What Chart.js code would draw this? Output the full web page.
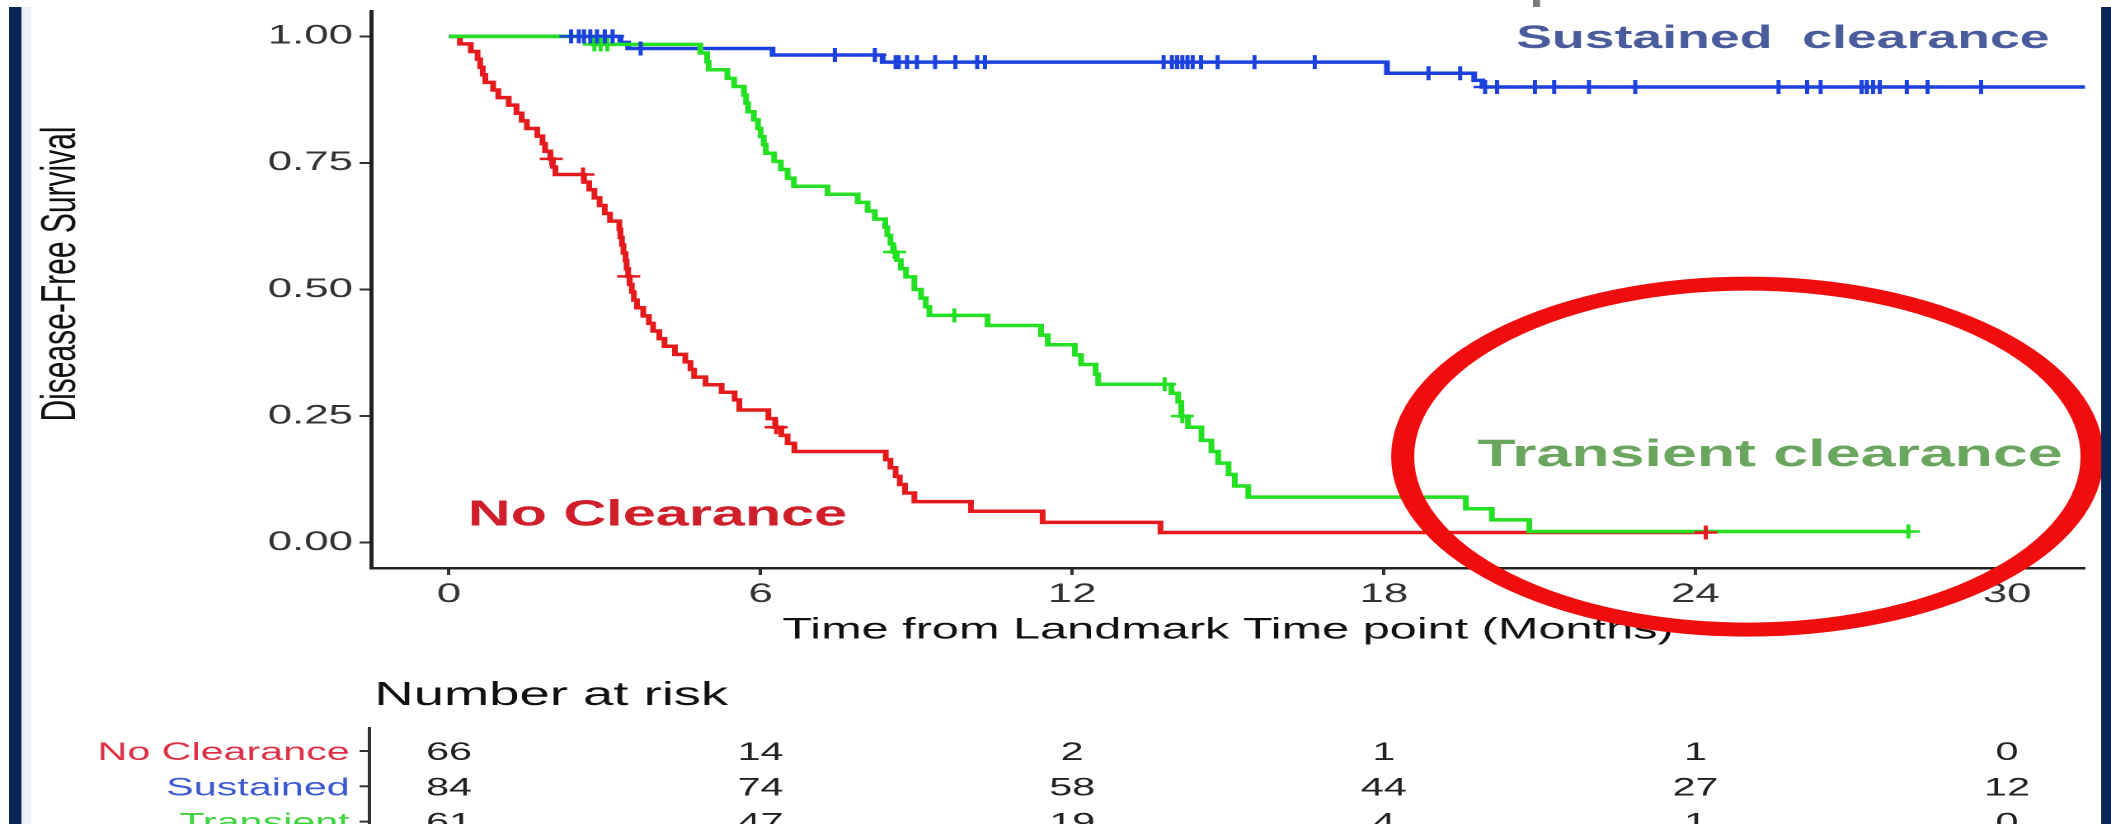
<!DOCTYPE html>
<html>
<head>
<meta charset="utf-8">
<script src="https://cdn.jsdelivr.net/npm/chart.js@4.4.1/dist/chart.umd.min.js"></script>
<style>
  html, body { margin: 0; padding: 0; background: #fff; overflow: hidden; }
  /* the original slide is a horizontally stretched screenshot, so stretch the canvas the same way */
  #wrap { width: 1280px; height: 824px; transform: scaleX(1.64922); transform-origin: 0 0; }
  #km { display: block; width: 1280px; height: 824px; }
</style>
</head>
<body>
<div id="wrap"><canvas id="km" width="1280" height="824"></canvas></div>
<script>
const xTicks = [0, 6, 12, 18, 24, 30]
const yTicks = [0, 0.25, 0.5, 0.75, 1]

// No Clearance (red)
const noClearTime = [0, 0.21, 0.42, 0.55, 0.60, 0.65, 0.70, 0.85, 0.95, 1.15, 1.30, 1.40, 1.50, 1.70, 1.80, 1.85, 1.95, 2.00, 2.05, 2.60, 2.70, 2.80, 2.90, 3.00, 3.10, 3.28, 3.30, 3.33, 3.36, 3.40, 3.42, 3.45, 3.48, 3.52, 3.56, 3.62, 3.74, 3.85, 3.93, 4.05, 4.15, 4.35, 4.55, 4.65, 4.72, 4.94, 5.25, 5.50, 5.59, 6.15, 6.28, 6.40, 6.52, 6.65, 8.41, 8.50, 8.60, 8.68, 8.78, 8.96, 10.05, 11.43, 13.70, 24.2]
const noClearSurv = [1, 0.985, 0.970, 0.955, 0.939, 0.924, 0.909, 0.894, 0.879, 0.864, 0.848, 0.833, 0.818, 0.803, 0.788, 0.773, 0.758, 0.742, 0.727, 0.712, 0.697, 0.681, 0.666, 0.650, 0.635, 0.619, 0.603, 0.588, 0.572, 0.557, 0.541, 0.526, 0.510, 0.495, 0.479, 0.464, 0.448, 0.433, 0.418, 0.403, 0.388, 0.372, 0.357, 0.342, 0.327, 0.312, 0.297, 0.282, 0.262, 0.245, 0.228, 0.212, 0.196, 0.180, 0.164, 0.148, 0.131, 0.115, 0.098, 0.081, 0.062, 0.040, 0.020, 0.020]
const noClearCensor = [1.97, 2.58, 3.46, 6.30, 24.2]

// Sustained clearance (blue)
const sustTime = [0, 3.30, 3.45, 6.23, 8.35, 18.06, 19.74, 19.90, 32]
const sustSurv = [1, 0.988, 0.976, 0.963, 0.949, 0.927, 0.913, 0.900, 0.900]
const sustCensor = [2.35, 2.5, 2.6, 2.72, 2.85, 3.0, 3.15, 3.69, 7.43, 8.2, 8.6, 8.66, 8.82, 9.01, 9.36, 9.75, 10.17, 10.32, 13.76, 13.92, 14.02, 14.12, 14.22, 14.32, 14.48, 14.8, 15.51, 16.67, 18.86, 19.47, 19.95, 20.18, 20.91, 21.28, 21.95, 22.84, 25.6, 26.15, 26.41, 27.2, 27.3, 27.42, 27.55, 28.07, 28.47, 29.5]

// Transient clearance (green)
const transTime = [0, 2.75, 4.84, 4.97, 5.00, 5.36, 5.49, 5.68, 5.72, 5.76, 5.87, 5.95, 6.00, 6.06, 6.10, 6.26, 6.39, 6.52, 6.64, 7.29, 7.87, 8.06, 8.20, 8.40, 8.44, 8.50, 8.55, 8.62, 8.70, 8.80, 8.96, 9.09, 9.18, 9.25, 10.37, 11.40, 11.53, 12.05, 12.17, 12.45, 12.50, 13.91, 14.04, 14.10, 14.23, 14.49, 14.68, 14.81, 15.01, 15.13, 15.39, 19.58, 20.08, 20.80, 28.1]
const transSurv = [1, 0.984, 0.967, 0.950, 0.934, 0.917, 0.901, 0.884, 0.868, 0.851, 0.835, 0.818, 0.802, 0.786, 0.769, 0.753, 0.737, 0.720, 0.704, 0.688, 0.672, 0.655, 0.639, 0.623, 0.607, 0.590, 0.574, 0.558, 0.541, 0.525, 0.500, 0.483, 0.466, 0.449, 0.429, 0.410, 0.391, 0.371, 0.352, 0.333, 0.313, 0.295, 0.278, 0.250, 0.228, 0.202, 0.180, 0.157, 0.135, 0.112, 0.090, 0.067, 0.045, 0.022, 0.022]
const transCensor = [2.80, 2.92, 3.05, 8.58, 9.73, 13.78, 14.12, 28.1]

// number at risk table
const riskGroups = ["No Clearance", "Sustained", "Transient"]
const riskNoClear = [66, 14, 2, 1, 1, 0]
const riskSust = [84, 74, 58, 44, 27, 12]
const riskTrans = [61, 47, 19, 4, 1, 0]

const fam = "'Liberation Sans', Arial, sans-serif"
const red = '#e41a1c', blue = '#1c41dc', green = '#23e023'
const labelColors = ['#db3345', '#3c5bd0', '#3fd43f']

const levelAt = (times, surv, t) => {
    let v = surv[0]
    times.forEach((tt, i) => { if (tt <= t) v = surv[i] })
    return v
}
const curve = (times, surv) => times.map((t, i) => ({x: t, y: surv[i]}))
const marks = (cens, times, surv) => cens.map(t => ({x: t, y: levelAt(times, surv, t)}))

const lineSet = (data, color) => ({
    data, borderColor: color, borderWidth: 3.5, pointRadius: 0, stepped: true, fill: false, tension: 0
})
const censorSet = (data, color) => ({
    data, showLine: false, pointStyle: 'cross', pointRadius: 7, pointBorderWidth: 2.5,
    pointBorderColor: color, borderColor: color, backgroundColor: color
})

// slide extras: y title, risk table, hand drawn annotations, slide frame
const slide = {
    id: 'slide',
    beforeDraw(chart){
        const c = chart.ctx
        c.save()
        c.fillStyle = '#fff'
        c.fillRect(0, 0, chart.width, chart.height)
        c.restore()
    },
    afterDraw(chart){
        const c = chart.ctx
        const x = chart.scales.x, y = chart.scales.y, area = chart.chartArea
        c.save()

        // y axis title sits a little above the panel centre in the original
        c.save()
        c.translate(37, 274)
        c.rotate(-Math.PI / 2)
        c.fillStyle = '#111'
        c.font = '30px ' + fam
        c.textAlign = 'center'
        c.textBaseline = 'middle'
        c.fillText('Disease-Free Survival', 0, 0)
        c.restore()

        c.fillStyle = '#111'
        c.font = '33px ' + fam
        c.textAlign = 'left'
        c.textBaseline = 'alphabetic'
        c.fillText('Number at risk', area.left + 2, 705)

        c.strokeStyle = '#333'
        c.lineWidth = 2
        c.beginPath()
        c.moveTo(area.left - 1, 727)
        c.lineTo(area.left - 1, chart.height)
        c.stroke()

        const rows = [riskNoClear, riskSust, riskTrans]
        const base = [760, 795.3, 830.6]
        rows.forEach((r, i) => {
            const yb = base[i]
            c.beginPath()
            c.moveTo(area.left - 7, yb - 9)
            c.lineTo(area.left - 1, yb - 9)
            c.stroke()
            c.font = '25px ' + fam
            c.fillStyle = labelColors[i]
            c.textAlign = 'right'
            c.fillText(riskGroups[i], area.left - 13, yb)
            c.fillStyle = '#222'
            c.textAlign = 'center'
            r.forEach((n, j) => c.fillText(String(n), x.getPixelForValue(xTicks[j]), yb))
        })

        c.textAlign = 'left'
        c.font = 'bold 32.5px ' + fam
        c.fillStyle = '#4a5c9c'
        c.fillText('Sustained  clearance', x.getPixelForValue(20.55), y.getPixelForValue(0.977))
        c.font = 'bold 38px ' + fam
        c.fillStyle = '#6ba65e'
        c.fillText('Transient clearance', x.getPixelForValue(19.8), y.getPixelForValue(0.151))
        c.font = 'bold 36px ' + fam
        c.fillStyle = '#cf1f2a'
        c.fillText('No Clearance', x.getPixelForValue(0.36), y.getPixelForValue(0.034))

        c.strokeStyle = '#f00d0d'
        c.lineWidth = 14
        c.beginPath()
        c.ellipse(x.getPixelForValue(25), y.getPixelForValue(0.17), 209, 173, 0, 0, Math.PI * 2)
        c.stroke()

        c.fillStyle = '#eef2f6'
        c.fillRect(13, 7, 6, chart.height)
        c.fillStyle = '#0b2755'
        c.fillRect(5.5, 7, 7.5, chart.height)
        c.fillRect(1274, 7, 6, chart.height)
        c.fillStyle = '#7a7a7a'
        c.fillRect(929.5, 0, 4.3, 7)
        c.restore()
    }
}

const ctx = document.getElementById('km')

new Chart(ctx, {
    type: 'line',
    data: {
        datasets: [
            censorSet(marks(sustCensor, sustTime, sustSurv), blue),
            censorSet(marks(transCensor, transTime, transSurv), green),
            censorSet(marks(noClearCensor, noClearTime, noClearSurv), red),
            lineSet(curve(transTime, transSurv), green),
            lineSet(curve(sustTime, sustSurv), blue),
            lineSet(curve(noClearTime, noClearSurv), red)
        ]
    },
    options: {
        responsive: false,
        animation: false,
        devicePixelRatio: 2,
        events: [],
        layout: {
            autoPadding: false,
            padding: {top: 11, left: 0, right: 15.8, bottom: 176}
        },
        plugins: {
            legend: {display: false},
            tooltip: {enabled: false}
        },
        scales: {
            x: {
                type: 'linear',
                min: -1.5,
                max: 31.5,
                afterBuildTicks: s => { s.ticks = xTicks.map(v => ({value: v})) },
                afterFit: s => { s.height = 80; s.paddingLeft = 0; s.paddingRight = 0 },
                border: {display: true, color: '#222', width: 2.5},
                grid: {display: true, drawOnChartArea: false, drawTicks: true, tickLength: 7, tickWidth: 2, color: '#333', tickColor: '#333'},
                ticks: {autoSkip: false, maxRotation: 0, padding: 4, color: '#333', font: {family: fam, size: 26.5}},
                title: {
                    display: true,
                    text: 'Time from Landmark Time point (Months)',
                    color: '#111',
                    font: {family: fam, size: 29.5},
                    padding: {top: 0, bottom: 0}
                }
            },
            y: {
                type: 'linear',
                min: -0.05,
                max: 1.05,
                afterBuildTicks: s => { s.ticks = yTicks.map(v => ({value: v})) },
                afterFit: s => { s.width = 225; s.paddingTop = 0; s.paddingBottom = 0 },
                border: {display: true, color: '#222', width: 2.5},
                grid: {display: true, drawOnChartArea: false, drawTicks: true, tickLength: 7, tickWidth: 2, color: '#333', tickColor: '#333'},
                ticks: {padding: 4, color: '#333', font: {family: fam, size: 26.5}, callback: v => v.toFixed(2)}
            }
        }
    },
    plugins: [slide]
})
</script>
</body>
</html>
